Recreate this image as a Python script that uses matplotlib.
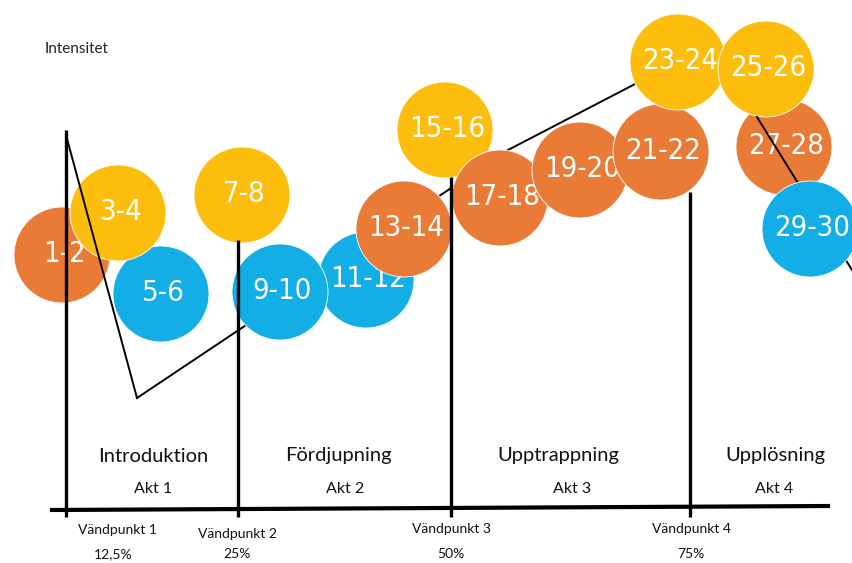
import matplotlib
matplotlib.use("Agg")
import matplotlib.pyplot as plt
from matplotlib.patches import Circle

# ---- data (diagram units: x = story position, y = intensity, 0..852 / 0..563) ----
scene_labels = ["1-2", "3-4", "5-6", "7-8", "9-10", "11-12", "13-14", "15-16",
                "17-18", "19-20", "21-22", "23-24", "25-26", "27-28", "29-30"]
scene_x = [62, 118, 161, 242, 280, 366, 404, 445, 500, 580, 661, 678, 766, 784, 810]
scene_y = [308, 350, 269, 368, 271, 283, 334, 433, 365, 393, 411, 501, 494, 416, 334]
scene_type = ["o", "y", "b", "y", "b", "b", "o", "y", "o", "o", "o", "y", "y", "o", "b"]

acts = ["Introduktion", "Fördjupning", "Upptrappning", "Upplösning"]
act_names = ["Akt 1", "Akt 2", "Akt 3", "Akt 4"]
act_x = [153, 338, 558, 775]
akt_x = [153, 345, 572, 774]

turn_labels = ["Vändpunkt 1", "Vändpunkt 2", "Vändpunkt 3", "Vändpunkt 4"]
turn_pct = ["12,5%", "25%", "50%", "75%"]
turn_x = [66, 238, 451, 690]
turn_top = [433, 323, 386, 371]

# intensity curve
curve_x = [66, 137, 508, 637, 722, 757, 852]
curve_y = [428, 165, 413, 480, 503, 446, 293]

colors = {"o": "#E97B37", "y": "#FCBD0C", "b": "#14AEE6"}

fig = plt.figure(figsize=(8.52, 5.63), dpi=100)
ax = fig.add_axes([0, 0, 1, 1])
ax.set_xlim(0, 852)
ax.set_ylim(0, 563)
ax.axis("off")

R = 48
# draw order for overlaps
order = [0, 2, 1, 3, 5, 4, 7, 6, 8, 9, 10, 11, 13, 12, 14]
for rank, i in enumerate(order):
    z = 3 + rank * 0.1
    ax.add_patch(Circle((scene_x[i], scene_y[i]), R, facecolor=colors[scene_type[i]],
                        edgecolor="white", linewidth=0.6, zorder=z))
    ax.text(scene_x[i] + 2, scene_y[i] + 1, scene_labels[i], ha="center", va="center",
            color="white", fontsize=21, zorder=z + 0.05,
            family="DejaVu Sans", fontstretch="condensed")

# intensity line segments
ax.plot(curve_x[0:2], curve_y[0:2], color="black", lw=1.4, zorder=10)
ax.plot(curve_x[1:6], curve_y[1:6], color="black", lw=1.4, zorder=2)
ax.plot(curve_x[5:7], curve_y[5:7], color="black", lw=1.4, zorder=4.35)

# vertical turning point lines
for x, top in zip(turn_x, turn_top):
    ax.plot([x, x], [top, 46], color="black", lw=2.4, zorder=10, solid_capstyle="butt")

# horizontal axis
ax.plot([52, 828], [53, 57], color="black", lw=3, zorder=10)

txt_font = ["Lato", "DejaVu Sans"]
ax.text(45, 514, "Intensitet", fontsize=11, family=txt_font,
        ha="left", va="center", color="#222222")

for name, x in zip(acts, act_x):
    ax.text(x, 107, name, fontsize=14.5, family=txt_font,
            ha="center", va="center", color="#111111")
for akt, x in zip(act_names, akt_x):
    ax.text(x, 74, akt, fontsize=11.5, family=txt_font,
            ha="center", va="center", color="#111111")

turn_label_x = [117, 237, 451, 691]
turn_label_y = [33, 29, 34, 34]
for lab, pct, x, y in zip(turn_labels, turn_pct, turn_label_x, turn_label_y):
    ax.text(x, y, lab, fontsize=10, family=txt_font,
            ha="center", va="center", color="#111111")
    ax.text(x - (4 if pct == "12,5%" else 0), max(y - 26, 9), pct, fontsize=10,
            family=txt_font, ha="center", va="center", color="#111111")

fig.savefig("out.png", dpi=100)
